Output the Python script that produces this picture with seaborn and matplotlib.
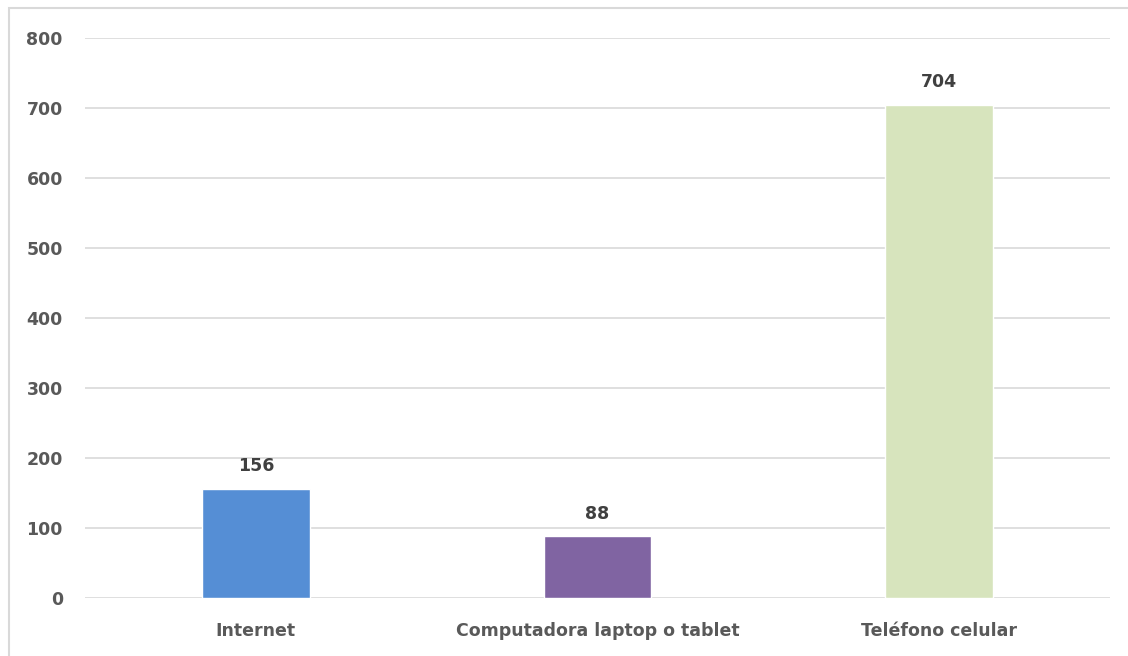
import seaborn as sns
import matplotlib.pyplot as plt
import pandas as pd
from matplotlib.patches import Rectangle

categories = ["Internet", "Computadora laptop o tablet", "Teléfono celular"]
values = [156, 88, 704]
bar_colors = ["#558ed5", "#8064a2", "#d7e4bd"]
y_ticks = [0, 100, 200, 300, 400, 500, 600, 700, 800]


def main():
    sns.set_theme(style="white")
    plt.rcParams["font.family"] = ["DejaVu Sans"]

    data = pd.DataFrame({"categoria": categories, "valor": values})

    fig = plt.figure(figsize=(11.28, 6.56), dpi=100)
    ax = fig.add_axes([85 / 1128, 1 - 598 / 656, (1110 - 85) / 1128, (598 - 38) / 656])

    sns.barplot(data=data, x="categoria", y="valor", hue="categoria",
                palette=bar_colors, width=0.316, legend=False, ax=ax,
                saturation=1, zorder=3)

    ax.set_ylim(0, 800)
    ax.set_yticks(y_ticks)
    ax.yaxis.grid(True, color="#d9d9d9", linewidth=1.2, zorder=0)
    ax.set_axisbelow(True)
    for side in ax.spines.values():
        side.set_visible(False)
    ax.set_xlabel("")
    ax.set_ylabel("")
    ax.tick_params(axis="both", length=0)
    ax.tick_params(axis="y", pad=16)
    ax.tick_params(axis="x", pad=17)
    for lbl in ax.get_yticklabels() + ax.get_xticklabels():
        lbl.set_fontweight("bold")
        lbl.set_fontsize(12.5)
        lbl.set_color("#595959")

    for i, v in enumerate(values):
        ax.annotate(str(v), (i, v), xytext=(0, 10), textcoords="offset points",
                    ha="center", va="bottom", fontsize=12.5, fontweight="bold",
                    color="#404040")

    # chart border
    fig.patches.append(Rectangle((9 / 1128, -0.1), 1.2, 1.1 - 8 / 656,
                                 transform=fig.transFigure, fill=False,
                                 edgecolor="#d9d9d9", linewidth=1.5))

    fig.savefig("out.png", dpi=100)


if __name__ == "__main__":
    main()
